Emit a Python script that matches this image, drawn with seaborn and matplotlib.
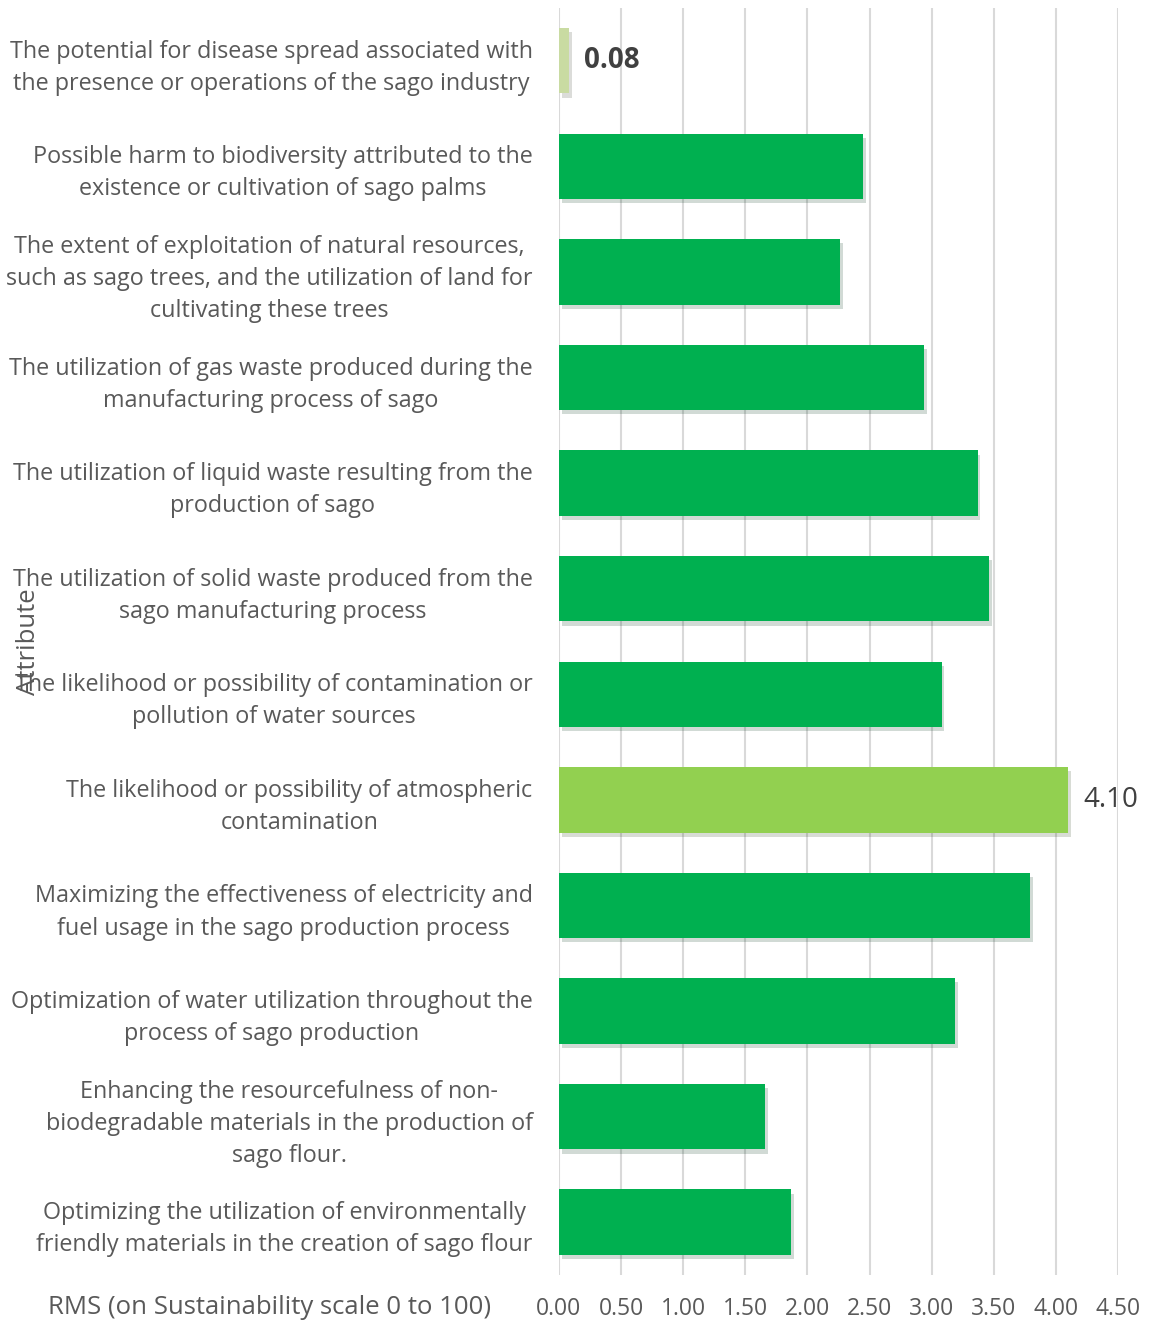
import matplotlib
matplotlib.use("Agg")
import matplotlib.pyplot as plt
import matplotlib.patheffects as pe
import pandas as pd
import seaborn as sns

# Data (top to bottom)
attributes = [
    "The potential for disease spread associated with\nthe presence or operations of the sago industry",
    "Possible harm to biodiversity attributed to the\nexistence or cultivation of sago palms",
    "The extent of exploitation of natural resources,\nsuch as sago trees, and the utilization of land for\ncultivating these trees",
    "The utilization of gas waste produced during the\nmanufacturing process of sago",
    "The utilization of liquid waste resulting from the\nproduction of sago",
    "The utilization of solid waste produced from the\nsago manufacturing process",
    "The likelihood or possibility of contamination or\npollution of water sources",
    "The likelihood or possibility of atmospheric\ncontamination",
    "Maximizing the effectiveness of electricity and\nfuel usage in the sago production process",
    "Optimization of water utilization throughout the\nprocess of sago production",
    "Enhancing the resourcefulness of non-\nbiodegradable materials in the production of\nsago flour.",
    "Optimizing the utilization of environmentally\nfriendly materials in the creation of sago flour",
]
rms = [0.08, 2.45, 2.26, 2.94, 3.37, 3.46, 3.08, 4.10, 3.79, 3.19, 1.66, 1.87]
bar_colors = ["#C9DBA2"] + ["#00B050"] * 6 + ["#92D050"] + ["#00B050"] * 4
x_ticks = [0.0, 0.5, 1.0, 1.5, 2.0, 2.5, 3.0, 3.5, 4.0, 4.5]

df = pd.DataFrame({"Attribute": attributes, "RMS": rms})

sns.set_style("white")
plt.rcParams["font.family"] = ["Open Sans", "DejaVu Sans"]
text_col = "#595959"

fig = plt.figure(figsize=(11.49, 13.24), dpi=100)
ax = fig.add_axes([0.4865, 0.037, 0.4865, 0.957])

sns.barplot(data=df, x="RMS", y="Attribute", hue="Attribute",
            palette=bar_colors, saturation=1, legend=False, width=0.62,
            linewidth=0, ax=ax, zorder=3)

for bar in ax.patches:
    bar.set_path_effects([pe.SimplePatchShadow(offset=(2, -3), alpha=0.18),
                          pe.Normal()])

ax.set_xlim(0, 4.5)
ax.set_ylim(11.5, -0.5)
ax.set_xticks(x_ticks)
ax.set_xticklabels([f"{t:.2f}" for t in x_ticks])
ax.grid(axis="x", color="#D9D9D9", linewidth=1.5, zorder=0)
ax.grid(axis="y", visible=False)
for s in ax.spines.values():
    s.set_visible(False)

ax.tick_params(axis="x", length=0, pad=16, labelsize=16.5, labelcolor=text_col)
ax.tick_params(axis="y", length=0, pad=19, labelsize=16.8, labelcolor=text_col)
for lab in ax.get_yticklabels():
    lab.set_multialignment("center")
    lab.set_linespacing(1.45)

ax.set_xlabel("")
ax.set_ylabel("")

# value labels on the highlighted bars
ax.text(rms[0] + 0.12, 0, f"{rms[0]:.2f}", va="center", ha="left",
        fontsize=20, fontweight="bold", color="#404040")
ax.text(rms[7] + 0.12, 7, f"{rms[7]:.2f}", va="center", ha="left",
        fontsize=20, color="#404040")

fig.text(0.235, 0.0125, "RMS (on Sustainability scale 0 to 100)", ha="center",
         va="center", fontsize=18.5, color=text_col)
fig.text(0.0245, 0.515, "Attribute", rotation=90, ha="center", va="center",
         fontsize=18.5, color=text_col)

plt.savefig("out.png", dpi=100)
